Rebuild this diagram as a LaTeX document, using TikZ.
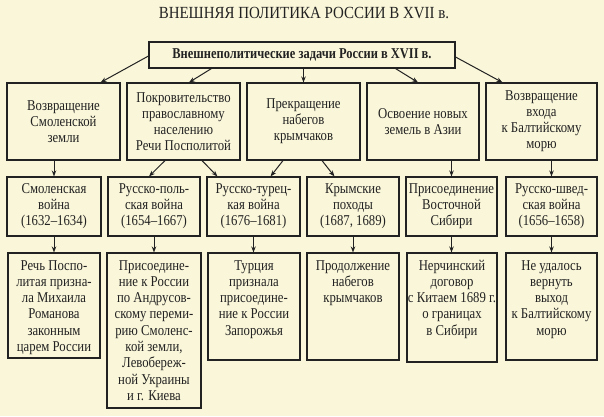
\documentclass[tikz,border=0pt]{standalone}
\usepackage{fontspec}
\setmainfont{Liberation Serif}[FakeStretch=0.85]
\newfontfamily\titlefont{Liberation Serif}[FakeStretch=0.88]
\newfontfamily\headfont{Liberation Serif}[FakeStretch=0.83]
\usetikzlibrary{arrows.meta}
\definecolor{bg}{HTML}{FAF6D9}
\definecolor{ink}{HTML}{222222}
\begin{document}
\begin{tikzpicture}[x=1pt,y=-1pt,
  box/.style={draw=ink, text=ink, line width=1.1pt, inner sep=0pt, align=center,
    font=\fontsize{15}{16}\selectfont},
  dbox/.style={draw=ink, text=ink, line width=1.1pt, inner sep=0pt,
    font=\fontsize{15}{16.3}\selectfont},
  arr/.style={draw=ink, line width=1pt, -{Stealth[length=6pt,width=4.5pt]}}]
\fill[bg] (0,0) rectangle (604,416);
\useasboundingbox (0,0) rectangle (604,416);

\node[text=ink, font=\titlefont\fontsize{17}{20}\selectfont] (title) at (304,13) {ВНЕШНЯЯ ПОЛИТИКА РОССИИ В XVII в.};

\node[box, minimum width=306pt, minimum height=26pt, font=\headfont\bfseries\fontsize{15}{16}\selectfont] (T) at (302,55) {Внешнеполитические задачи России в XVII в.};

% row 1
\node[box, minimum width=113pt, minimum height=77pt] (B1) at (63.5,121.5) {Возвращение\\Смоленской\\земли};
\node[box, minimum width=113pt, minimum height=77pt] (B2) at (183.5,121.5) {Покровительство\\православному\\населению\\Речи Посполитой};
\node[box, minimum width=113pt, minimum height=77pt] (B3) at (303.5,121.5) {Прекращение\\набегов\\крымчаков};
\node[box, minimum width=112pt, minimum height=77pt] (B4) at (423,121.5) {Освоение новых\\земель в Азии};
\node[box, minimum width=111pt, minimum height=77pt] (B5) at (541.5,121.5) {Возвращение\\входа\\к Балтийскому\\морю};

% row 2
\node[box, minimum width=94pt, minimum height=59pt] (C1) at (54,206.5) {Смоленская\\война\\(1632–1634)};
\node[box, minimum width=92pt, minimum height=59pt] (C2) at (154,206.5) {Русско-поль-\\ская война\\(1654–1667)};
\node[box, minimum width=93pt, minimum height=59pt] (C3) at (253.5,206.5) {Русско-турец-\\кая война\\(1676–1681)};
\node[box, minimum width=92pt, minimum height=59pt] (C4) at (353,206.5) {Крымские\\походы\\(1687, 1689)};
\node[box, minimum width=91pt, minimum height=59pt] (C5) at (451.5,206.5) {Присоединение\\Восточной\\Сибири};
\node[box, minimum width=91pt, minimum height=59pt] (C6) at (551.5,206.5) {Русско-швед-\\ская война\\(1656–1658)};

% row 3
\node[dbox] (D1) at (54,305.5) {\parbox[c][105pt][t]{92pt}{\centering\rule{0pt}{17pt}Речь Поспо-\\литая призна-\\ла Михаила\\Романова\\законным\\царем России}};
\node[dbox] (D2) at (154,330.5) {\parbox[c][155pt][t]{94pt}{\centering\rule{0pt}{17pt}Присоедине-\\ние к России\\по Андрусов-\\скому переми-\\рию Смоленс-\\кой земли,\\Левобереж-\\ной Украины\\и г. Киева}};
\node[dbox] (D3) at (254,306.5) {\parbox[c][107pt][t]{92pt}{\centering\rule{0pt}{17pt}Турция\\признала\\присоедине-\\ние к России\\Запорожья}};
\node[dbox] (D4) at (353,306.5) {\parbox[c][107pt][t]{92pt}{\centering\rule{0pt}{17pt}Продолжение\\набегов\\крымчаков}};
\node[dbox] (D5) at (452,307.5) {\parbox[c][109pt][t]{90pt}{\centering\rule{0pt}{17pt}Нерчинский\\договор\\с Китаем 1689 г.\\о границах\\в Сибири}};
\node[dbox] (D6) at (551.5,306.5) {\parbox[c][107pt][t]{91pt}{\centering\rule{0pt}{17pt}Не удалось\\вернуть\\выход\\к Балтийскому\\морю}};

% arrows top -> row 1
\draw[arr] ([yshift=-1pt]T.west) -- ([xshift=-20pt]B1.north east);
\draw[arr] ([xshift=63pt]T.south west) -- ([xshift=5.5pt]B2.north);
\draw[arr] (B3.north |- T.south) -- (B3.north);
\draw[arr] ([xshift=-60pt]T.south east) -- ([xshift=-5pt]B4.north);
\draw[arr] ([yshift=-2pt]T.east) -- ([xshift=17pt]B5.north west);

% row 1 -> row 2
\draw[arr] (C1.north |- B1.south) -- (C1.north);
\draw[arr] ([xshift=-18.5pt]B2.south) -- ([xshift=-5pt]C2.north);
\draw[arr] ([xshift=18.5pt]B2.south) -- ([xshift=11pt]C3.north west);
\draw[arr] ([xshift=-20.5pt]B3.south) -- ([xshift=-30pt]C3.north east);
\draw[arr] ([xshift=18.5pt]B3.south) -- ([xshift=28pt]C4.north west);
\draw[arr] (C5.north |- B4.south) -- (C5.north);
\draw[arr] (C6.north |- B5.south) -- (C6.north);

% row 2 -> row 3
\draw[arr] (C1.south) -- (C1.south |- D1.north);
\draw[arr] (C2.south) -- (C2.south |- D2.north);
\draw[arr] (C3.south) -- (C3.south |- D3.north);
\draw[arr] (C4.south) -- (C4.south |- D4.north);
\draw[arr] (C5.south) -- (C5.south |- D5.north);
\draw[arr] (C6.south) -- (C6.south |- D6.north);
\end{tikzpicture}
\end{document}
